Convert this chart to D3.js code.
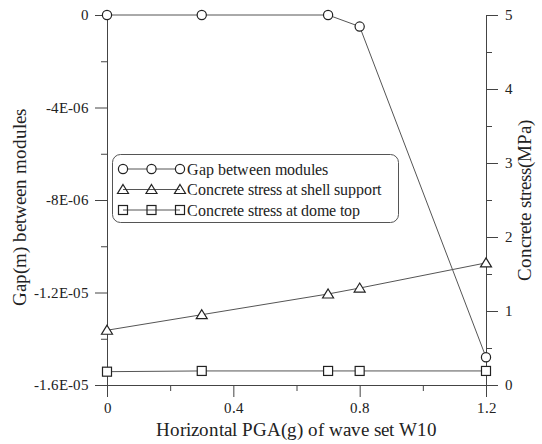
<!DOCTYPE html>
<html><head><meta charset="utf-8">
<script src="https://cdn.jsdelivr.net/npm/d3@7"></script>
<style>
@font-face{font-family:"ChartSerif";src:local("Liberation Serif"),local("LiberationSerif"),local("Times New Roman"),local("Tinos");}
body{margin:0;background:#fff;font-family:"ChartSerif",serif}
svg text{font-family:"ChartSerif",serif}
</style>
</head><body><svg id="c" width="542" height="444"></svg>
<script>
const pga = [0, 0.3, 0.7, 0.8, 1.2];
const gap = [0, 0, 0, -5.0e-7, -1.48e-5];
const shellStress = [0.74, 0.95, 1.23, 1.31, 1.65];
const domeStress = [0.18, 0.19, 0.19, 0.19, 0.19];
const xTicks = [0, 0.4, 0.8, 1.2];
const xTickLabels = ["0", "0.4", "0.8", "1.2"];
const leftTicks = [0, -4e-6, -8e-6, -1.2e-5, -1.6e-5];
const leftTickLabels = ["0", "-4E-06", "-8E-06", "-1.2E-05", "-1.6E-05"];
const rightTicks = [0, 1, 2, 3, 4, 5];
const seriesNames = ["Gap between modules", "Concrete stress at shell support", "Concrete stress at dome top"];
const xTitle = "Horizontal PGA(g) of wave set W10";
const yLeftTitle = "Gap(m) between modules";
const yRightTitle = "Concrete stress(MPa)";

const svg = d3.select("#c");
const L = 107, R = 486, T = 15, B = 385;
const x = d3.scaleLinear().domain([0, 1.2]).range([L, R]);
const yL = d3.scaleLinear().domain([-1.6e-5, 0]).range([B, T]);
const yR = d3.scaleLinear().domain([0, 5]).range([B, T]);
const axisCol = "#444", textCol = "#222", lineCol = "#555", markCol = "#222";

function setFont(sel, size) {
  sel.attr("font-size", size);
}
function styleAxis(g) {
  g.attr("font-family", null).attr("font-size", null);
  g.selectAll("path,line").attr("stroke", axisCol).attr("stroke-width", 1);
  g.selectAll("text").attr("fill", textCol).call(setFont, 15);
}
// minor ticks
svg.append("g").attr("transform", `translate(0,${B})`)
  .call(d3.axisBottom(x).tickValues([0.2, 0.6, 1.0]).tickSize(6).tickFormat("").tickSizeOuter(0))
  .call(g => g.select(".domain").remove()).call(styleAxis);
svg.append("g").attr("transform", `translate(${L},0)`)
  .call(d3.axisLeft(yL).tickValues([-2e-6, -6e-6, -1e-5, -1.4e-5]).tickSize(6).tickFormat("").tickSizeOuter(0))
  .call(g => g.select(".domain").remove()).call(styleAxis);
svg.append("g").attr("transform", `translate(${R},0)`)
  .call(d3.axisRight(yR).tickValues([0.5, 1.5, 2.5, 3.5, 4.5]).tickSize(6).tickFormat("").tickSizeOuter(0))
  .call(g => g.select(".domain").remove()).call(styleAxis);
// major axes
svg.append("g").attr("transform", `translate(0,${B})`)
  .call(d3.axisBottom(x).tickValues(xTicks).tickFormat((d, i) => xTickLabels[i]).tickSize(12).tickSizeOuter(0).tickPadding(5))
  .call(styleAxis);
svg.append("g").attr("transform", `translate(${L},0)`)
  .call(d3.axisLeft(yL).tickValues(leftTicks).tickFormat((d, i) => leftTickLabels[i]).tickSize(12).tickSizeOuter(0).tickPadding(6))
  .call(styleAxis);
svg.append("g").attr("transform", `translate(${R},0)`)
  .call(d3.axisRight(yR).tickValues(rightTicks).tickFormat(d3.format("d")).tickSize(12).tickSizeOuter(0).tickPadding(7))
  .call(styleAxis);

// series
const series = [
  { vals: gap, y: yL, shape: "circle" },
  { vals: shellStress, y: yR, shape: "triangle" },
  { vals: domeStress, y: yR, shape: "square" }
];
function drawMarker(g, shape, cx, cy, fill) {
  if (shape === "circle") g.append("circle").attr("cx", cx).attr("cy", cy).attr("r", 4.6);
  else if (shape === "triangle") g.append("path").attr("d", `M${cx},${cy - 5}L${cx + 5.5},${cy + 4}L${cx - 5.5},${cy + 4}Z`);
  else g.append("rect").attr("x", cx - 4.5).attr("y", cy - 4.5).attr("width", 9).attr("height", 9);
  g.selectAll("*").attr("fill", fill).attr("stroke", markCol).attr("stroke-width", 1.2);
}
series.forEach(s => {
  const pts = pga.map((p, i) => [x(p), s.y(s.vals[i])]);
  svg.append("path").attr("d", d3.line()(pts)).attr("fill", "none").attr("stroke", lineCol).attr("stroke-width", 1);
});
series.forEach(s => {
  pga.forEach((p, i) => {
    drawMarker(svg.append("g"), s.shape, x(p), s.y(s.vals[i]), "#fff");
  });
});

// legend
const lg = svg.append("g");
lg.append("rect").attr("x", 112.5).attr("y", 154.5).attr("width", 286).attr("height", 68).attr("rx", 8)
  .attr("fill", "#fff").attr("stroke", "#555").attr("stroke-width", 1);
seriesNames.forEach((name, i) => {
  const yy = 169 + i * 20.5;
  lg.append("line").attr("x1", 123).attr("x2", 180).attr("y1", yy).attr("y2", yy).attr("stroke", lineCol);
  [123, 151.5, 180].forEach(cx => drawMarker(lg.append("g"), series[i].shape, cx, yy, i === 0 ? "#fff" : "none"));
  lg.append("text").attr("x", 187).attr("y", yy + 5.5).text(name)
    .attr("fill", textCol).call(setFont, 16);
});

// titles
svg.append("text").attr("x", 296).attr("y", 436).attr("text-anchor", "middle")
  .call(setFont, 19).attr("fill", textCol).text(xTitle);
svg.append("text").attr("transform", "translate(26,207) rotate(-90)").attr("text-anchor", "middle")
  .call(setFont, 19).attr("fill", textCol).text(yLeftTitle);
svg.append("text").attr("transform", "translate(531,200) rotate(-90)").attr("text-anchor", "middle")
  .call(setFont, 19).attr("fill", textCol).text(yRightTitle);
</script></body></html>
